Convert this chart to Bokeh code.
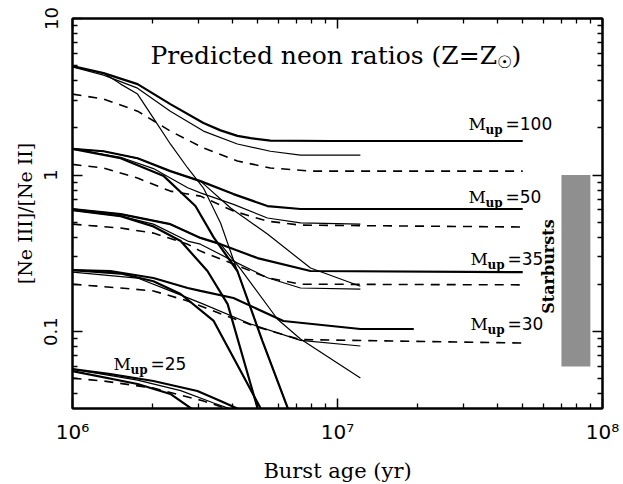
import math
from bokeh.plotting import figure
from bokeh.models import Label, LogAxis, FixedTicker, Range1d
from bokeh.embed import file_html
from bokeh.resources import INLINE

# ---------------- data (burst age in yr, [Ne III]/[Ne II]) ----------------
m100_a_age = [1e6, 1.31e6, 1.76e6, 2.34e6, 3.12e6, 3.62e6, 4.19e6, 4.7e6, 5.58e6, 9.4e6, 5e7]
m100_a_val = [4.97, 4.48, 3.81, 2.84, 2.15, 1.93, 1.78, 1.72, 1.66, 1.65, 1.65]
m100_b_age = [1e6, 1.31e6, 1.76e6, 2.34e6, 3.12e6, 4.19e6, 5.58e6, 7.25e6, 1.22e7]
m100_b_val = [4.9, 4.35, 3.59, 2.56, 1.91, 1.58, 1.42, 1.34, 1.34]
m100_c_age = [1e6, 1.31e6, 1.76e6, 2.34e6, 3.12e6, 4.19e6, 5.58e6, 7.91e6, 5e7]
m100_c_val = [3.29, 3.06, 2.56, 1.91, 1.49, 1.23, 1.11, 1.06, 1.06]
m100_d_age = [1e6, 1.31e6, 1.52e6, 1.76e6, 2.02e6, 2.34e6, 2.72e6, 3.12e6, 3.62e6, 4.19e6, 5.21e6, 6.53e6]
m100_d_val = [4.9, 4.48, 3.81, 3.29, 2.31, 1.58, 1.11, 0.826, 0.494, 0.244, 0.0871, 0.0316]

m50_a_age = [1e6, 1.31e6, 1.76e6, 2.34e6, 3.04e6, 4.05e6, 5.44e6, 7.25e6, 5e7]
m50_a_val = [1.47, 1.42, 1.28, 1.06, 0.915, 0.756, 0.634, 0.607, 0.607]
m50_b_age = [1e6, 1.52e6, 2.02e6, 2.72e6, 3.04e6, 4.05e6, 5.44e6, 7.25e6, 1.22e7]
m50_b_val = [1.47, 1.30, 1.10, 0.83, 0.77, 0.65, 0.532, 0.495, 0.486]
m50_c_age = [1e6, 1.31e6, 1.76e6, 2.34e6, 3.04e6, 4.05e6, 5.44e6, 7.25e6, 5e7]
m50_c_val = [1.17, 1.11, 0.957, 0.79, 0.734, 0.589, 0.508, 0.479, 0.466]
m50_d_age = [1e6, 1.52e6, 2.21e6, 2.91e6, 3.41e6, 4.19e6, 5.21e6, 6.53e6]
m50_d_val = [1.47, 1.28, 0.985, 0.634, 0.40, 0.244, 0.0871, 0.0316]
m50_e_age = [1e6, 1.31e6, 1.76e6, 2.34e6, 3.04e6, 3.95e6, 5.44e6, 7.91e6, 1.22e7]
m50_e_val = [1.47, 1.42, 1.28, 1.06, 0.915, 0.616, 0.42, 0.255, 0.195]

m35_a_age = [1e6, 1.52e6, 2.34e6, 3.04e6, 3.62e6, 4.99e6, 7.91e6, 5e7]
m35_a_val = [0.607, 0.563, 0.486, 0.397, 0.362, 0.295, 0.244, 0.240]
m35_b_age = [1e6, 1.52e6, 2.02e6, 2.72e6, 3.04e6, 4.05e6, 5.44e6, 7.25e6, 1.22e7]
m35_b_val = [0.597, 0.547, 0.486, 0.379, 0.362, 0.282, 0.221, 0.19, 0.187]
m35_c_age = [1e6, 1.52e6, 2.02e6, 2.72e6, 3.04e6, 4.05e6, 5.44e6, 7.25e6, 5e7]
m35_c_val = [0.486, 0.459, 0.426, 0.362, 0.327, 0.27, 0.221, 0.201, 0.199]
m35_d_age = [1e6, 1.52e6, 2.02e6, 2.56e6, 3.23e6, 3.85e6, 4.99e6]
m35_d_val = [0.597, 0.547, 0.47, 0.379, 0.244, 0.15, 0.0325]
m35_e_age = [1e6, 1.52e6, 2.34e6, 3.04e6, 3.62e6, 4.31e6, 5.94e6, 7.25e6, 1.22e7]
m35_e_val = [0.607, 0.563, 0.486, 0.397, 0.362, 0.251, 0.12, 0.0897, 0.0505]

m30_a_age = [1e6, 1.39e6, 2.02e6, 2.72e6, 3.04e6, 4.05e6, 6.25e6, 1.22e7, 1.94e7]
m30_a_val = [0.247, 0.244, 0.22, 0.19, 0.182, 0.164, 0.117, 0.104, 0.104]
m30_b_age = [1e6, 1.76e6, 2.34e6, 3.12e6, 4.7e6, 7.25e6, 1.22e7]
m30_b_val = [0.24, 0.22, 0.182, 0.15, 0.112, 0.088, 0.081]
m30_c_age = [1e6, 1.52e6, 2.02e6, 2.72e6, 3.62e6, 4.99e6, 7.25e6, 5e7]
m30_c_val = [0.201, 0.19, 0.182, 0.157, 0.13, 0.107, 0.089, 0.0846]
m30_d_age = [1e6, 1.52e6, 2.02e6, 2.56e6, 3.41e6, 4.31e6, 5.12e6]
m30_d_val = [0.247, 0.235, 0.21, 0.174, 0.117, 0.056, 0.0325]

m25_a_age = [1e6, 1.39e6, 2.02e6, 2.96e6, 3.62e6, 4.31e6]
m25_a_val = [0.0577, 0.0536, 0.0484, 0.0418, 0.0361, 0.0316]
m25_b_age = [1e6, 1.76e6, 2.56e6, 3.41e6, 4.05e6]
m25_b_val = [0.0577, 0.049, 0.042, 0.035, 0.0316]
m25_c_age = [1e6, 1.31e6, 2.02e6, 3.12e6, 3.95e6]
m25_c_val = [0.0505, 0.0484, 0.0436, 0.0361, 0.0316]
m25_d_age = [1e6, 1.76e6, 2.34e6, 2.86e6]
m25_d_val = [0.056, 0.0463, 0.040, 0.0316]

starburst_age = [7.0e7, 9.0e7]
starburst_ratio = [0.06, 1.0]

x_ticks = [1e6, 1e7, 1e8]
x_tick_labels = ["10\u2076", "10\u2077", "10\u2078"]
y_ticks = [0.1, 1, 10]
y_tick_labels = ["0.1", "1", "10"]

mup_labels = ["=100", "=50", "=35", "=30", "=25"]

# ---------------- figure ----------------
YMIN, YMAX = 0.0323, 10.0
p = figure(x_axis_type="log", y_axis_type="log",
           x_range=Range1d(1e6, 1e8), y_range=Range1d(YMIN, YMAX),
           frame_width=530, frame_height=390,
           min_border_left=72, min_border_right=21, min_border_top=18, min_border_bottom=76,
           output_backend="svg", toolbar_location=None)
p.grid.visible = False
p.outline_line_color = "black"
p.outline_line_width = 2
p.background_fill_color = "white"
p.border_fill_color = "white"

# page-pixel -> data helpers (frame: x 72..602, y 18..408 on the page)
FL, FR, FT, FB = 72, 602, 18, 408
def px_x(px):
    return 10 ** (6 + 2 * (px - FL) / (FR - FL))
def px_y(py):
    l0, l1 = math.log10(YMIN), math.log10(YMAX)
    return 10 ** (l1 - (py - FT) / (FB - FT) * (l1 - l0))

x_minor = [m * 10 ** e for e in (6, 7) for m in range(2, 10)]
y_minor = [m * 10 ** e for e in (-2, -1, 0) for m in range(2, 10) if YMIN <= m * 10 ** e <= YMAX]

def style_axis(ax, ticks, minor, show):
    ax.ticker = FixedTicker(ticks=ticks, minor_ticks=minor)
    ax.major_tick_in = 10
    ax.major_tick_out = 0
    ax.minor_tick_in = 5
    ax.minor_tick_out = 0
    ax.major_tick_line_color = "black"
    ax.minor_tick_line_color = "black"
    ax.major_tick_line_width = 1.5
    ax.minor_tick_line_width = 1.3
    ax.axis_line_color = "black"
    ax.axis_line_width = 2
    if not show:
        ax.major_label_text_font_size = "1px"
        ax.major_label_text_alpha = 0
        ax.major_label_standoff = 0

xb = p.xaxis[0]
yl = p.yaxis[0]
style_axis(xb, x_ticks, x_minor, True)
style_axis(yl, y_ticks, y_minor, True)
xb.major_label_overrides = dict(zip(x_ticks, x_tick_labels))
yl.major_label_overrides = dict(zip(y_ticks, y_tick_labels))
for ax in (xb, yl):
    ax.major_label_text_font = "DejaVu Sans"
    ax.major_label_text_font_size = "18px"
    ax.major_label_text_color = "black"
    ax.axis_label_text_font = "DejaVu Serif"
    ax.axis_label_text_font_style = "normal"
    ax.axis_label_text_color = "black"
xb.major_label_text_font_size = "20px"
xb.axis_label_text_font_size = "21px"
yl.axis_label_text_font_size = "19px"
xb.major_label_standoff = 11
yl.major_label_standoff = 15
yl.major_label_orientation = "vertical"
xb.axis_label = "Burst age (yr)"
yl.axis_label = "[Ne III]/[Ne II]"
xb.axis_label_standoff = 12
yl.axis_label_standoff = 6

xt = LogAxis()
style_axis(xt, x_ticks, x_minor, False)
p.add_layout(xt, "above")
yr = LogAxis()
style_axis(yr, y_ticks, y_minor, False)
p.add_layout(yr, "right")

# ---------------- curves ----------------
THICK, THIN, DASHW = 2.2, 1.2, 1.6
def solid(a, v, w):
    p.line(a, v, line_color="black", line_width=w)
def dashed(a, v):
    p.line(a, v, line_color="black", line_width=DASHW, line_dash="9 7")

solid(m100_a_age, m100_a_val, THICK)
solid(m100_b_age, m100_b_val, THIN)
dashed(m100_c_age, m100_c_val)
solid(m100_d_age, m100_d_val, THIN)

solid(m50_a_age, m50_a_val, THICK)
solid(m50_b_age, m50_b_val, THIN)
dashed(m50_c_age, m50_c_val)
solid(m50_d_age, m50_d_val, THICK)
solid(m50_e_age, m50_e_val, THIN)

solid(m35_a_age, m35_a_val, THICK)
solid(m35_b_age, m35_b_val, THIN)
dashed(m35_c_age, m35_c_val)
solid(m35_d_age, m35_d_val, THICK)
solid(m35_e_age, m35_e_val, THIN)

solid(m30_a_age, m30_a_val, THICK)
solid(m30_b_age, m30_b_val, THIN)
dashed(m30_c_age, m30_c_val)
solid(m30_d_age, m30_d_val, THICK)

solid(m25_a_age, m25_a_val, THICK)
solid(m25_b_age, m25_b_val, THIN)
dashed(m25_c_age, m25_c_val)
solid(m25_d_age, m25_d_val, THICK)

# starburst observed range
p.quad(left=[starburst_age[0]], right=[starburst_age[1]],
       bottom=[starburst_ratio[0]], top=[starburst_ratio[1]],
       fill_color="#8f8f8f", line_color=None)

# ---------------- texts ----------------
def lab(text, px, py, size, font="DejaVu Serif", style="normal", align="left",
        baseline="alphabetic", angle=0.0):
    p.add_layout(Label(x=px_x(px), y=px_y(py), text=text, text_font=font,
                       text_font_size=size, text_font_style=style, text_color="black",
                       text_align=align, text_baseline=baseline, angle=angle))

lab("Predicted neon ratios (Z=Z", 150, 55, "25px")
lab("\u2609", 504, 61, "17px", font="DejaVu Sans", align="center", baseline="middle")
lab(")", 511, 55, "25px")

mup_pos = [(468, 123), (468, 196), (470, 258), (470, 323), (113, 363)]
for txt, (mx, my) in zip(mup_labels, mup_pos):
    lab("M", mx, my, "17px")
    lab("up", mx + 17, my + 6, "12px", style="bold")
    lab(txt, mx + 37, my, "17px", font="DejaVu Sans")

lab("Starbursts", 548, 266, "16px", style="bold", align="center", baseline="middle",
    angle=math.pi / 2)

open("out.html", "w").write(file_html(p, INLINE))
